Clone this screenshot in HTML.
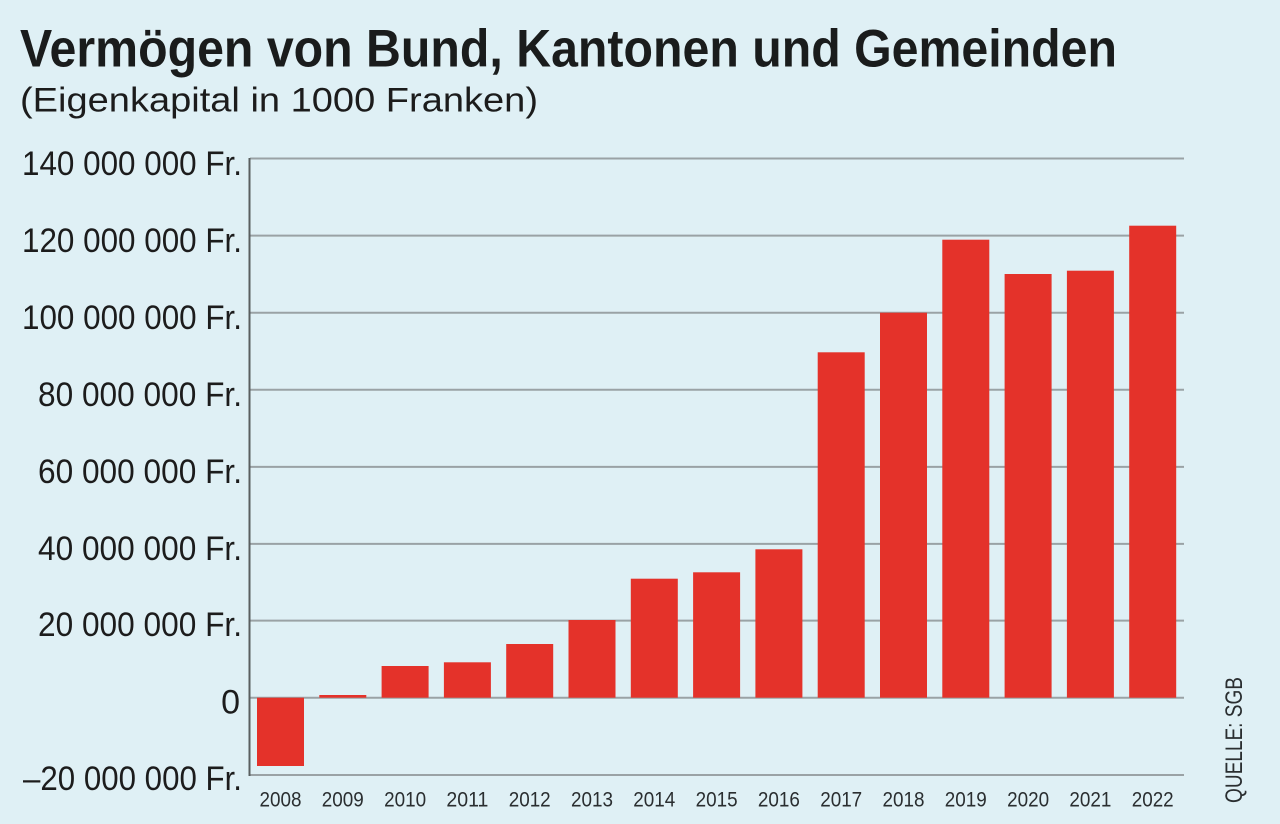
<!DOCTYPE html>
<html><head><meta charset="utf-8"><style>
html,body{margin:0;padding:0;background:#dff0f5;}
svg{display:block;}
</style></head><body>
<svg width="1280" height="824" viewBox="0 0 1280 824" xmlns="http://www.w3.org/2000/svg" font-family="'Liberation Sans', sans-serif">
<rect width="1280" height="824" fill="#dff0f5"/>
<text x="20" y="66.7" font-size="53" font-weight="bold" fill="#1a1c1c" textLength="1097" lengthAdjust="spacingAndGlyphs">Vermögen von Bund, Kantonen und Gemeinden</text>
<text x="20" y="111.7" font-size="34" fill="#1c1c1c" textLength="518" lengthAdjust="spacingAndGlyphs">(Eigenkapital in 1000 Franken)</text>
<g stroke="#9aa2a5" stroke-width="2">
<line x1="250" y1="158.5" x2="1184" y2="158.5"/>
<line x1="250" y1="235.6" x2="1184" y2="235.6"/>
<line x1="250" y1="312.7" x2="1184" y2="312.7"/>
<line x1="250" y1="389.8" x2="1184" y2="389.8"/>
<line x1="250" y1="466.9" x2="1184" y2="466.9"/>
<line x1="250" y1="543.9" x2="1184" y2="543.9"/>
<line x1="250" y1="620.6" x2="1184" y2="620.6"/>
<line x1="250" y1="697.7" x2="1184" y2="697.7"/>
<line x1="250" y1="775" x2="1184" y2="775"/>
</g>
<g fill="#e4322a">
<rect x="257" y="697.7" width="47" height="68.3"/>
<rect x="319.3" y="695" width="47" height="2.7"/>
<rect x="381.6" y="666" width="47" height="31.7"/>
<rect x="443.9" y="662.3" width="47" height="35.4"/>
<rect x="506.2" y="644" width="47" height="53.7"/>
<rect x="568.5" y="620" width="47" height="77.7"/>
<rect x="630.8" y="578.7" width="47" height="119"/>
<rect x="693.1" y="572.3" width="47" height="125.4"/>
<rect x="755.4" y="549.3" width="47" height="148.4"/>
<rect x="817.7" y="352.3" width="47" height="345.4"/>
<rect x="880" y="312.7" width="47" height="385"/>
<rect x="942.3" y="239.7" width="47" height="458"/>
<rect x="1004.6" y="274" width="47" height="423.7"/>
<rect x="1066.9" y="270.7" width="47" height="427"/>
<rect x="1129.2" y="225.7" width="47" height="472"/>
</g>
<line x1="249.5" y1="158" x2="249.5" y2="776" stroke="#5a5f60" stroke-width="2"/>
<g font-size="34" fill="#1c1c1c" text-anchor="end">
<text x="242" y="175" textLength="220" lengthAdjust="spacingAndGlyphs">140 000 000 Fr.</text>
<text x="242" y="252" textLength="220" lengthAdjust="spacingAndGlyphs">120 000 000 Fr.</text>
<text x="242" y="329" textLength="220" lengthAdjust="spacingAndGlyphs">100 000 000 Fr.</text>
<text x="242" y="406" textLength="204" lengthAdjust="spacingAndGlyphs">80 000 000 Fr.</text>
<text x="242" y="483" textLength="204" lengthAdjust="spacingAndGlyphs">60 000 000 Fr.</text>
<text x="242" y="560" textLength="204" lengthAdjust="spacingAndGlyphs">40 000 000 Fr.</text>
<text x="242" y="636" textLength="204" lengthAdjust="spacingAndGlyphs">20 000 000 Fr.</text>
<text x="240" y="713.5">0</text>
<text x="242" y="790" textLength="219" lengthAdjust="spacingAndGlyphs">–20 000 000 Fr.</text>
</g>
<g font-size="21" fill="#2a2e30" text-anchor="middle">
<text x="280.5" y="806.7" textLength="42" lengthAdjust="spacingAndGlyphs">2008</text>
<text x="342.8" y="806.7" textLength="42" lengthAdjust="spacingAndGlyphs">2009</text>
<text x="405.1" y="806.7" textLength="42" lengthAdjust="spacingAndGlyphs">2010</text>
<text x="467.4" y="806.7" textLength="42" lengthAdjust="spacingAndGlyphs">2011</text>
<text x="529.7" y="806.7" textLength="42" lengthAdjust="spacingAndGlyphs">2012</text>
<text x="592" y="806.7" textLength="42" lengthAdjust="spacingAndGlyphs">2013</text>
<text x="654.3" y="806.7" textLength="42" lengthAdjust="spacingAndGlyphs">2014</text>
<text x="716.6" y="806.7" textLength="42" lengthAdjust="spacingAndGlyphs">2015</text>
<text x="778.9" y="806.7" textLength="42" lengthAdjust="spacingAndGlyphs">2016</text>
<text x="841.2" y="806.7" textLength="42" lengthAdjust="spacingAndGlyphs">2017</text>
<text x="903.5" y="806.7" textLength="42" lengthAdjust="spacingAndGlyphs">2018</text>
<text x="965.8" y="806.7" textLength="42" lengthAdjust="spacingAndGlyphs">2019</text>
<text x="1028.1" y="806.7" textLength="42" lengthAdjust="spacingAndGlyphs">2020</text>
<text x="1090.4" y="806.7" textLength="42" lengthAdjust="spacingAndGlyphs">2021</text>
<text x="1152.7" y="806.7" textLength="42" lengthAdjust="spacingAndGlyphs">2022</text>
</g>
<text transform="translate(1242,803) rotate(-90)" x="0" y="0" font-size="24" fill="#2a2e30" textLength="126" lengthAdjust="spacingAndGlyphs">QUELLE: SGB</text>
</svg>
</body></html>
